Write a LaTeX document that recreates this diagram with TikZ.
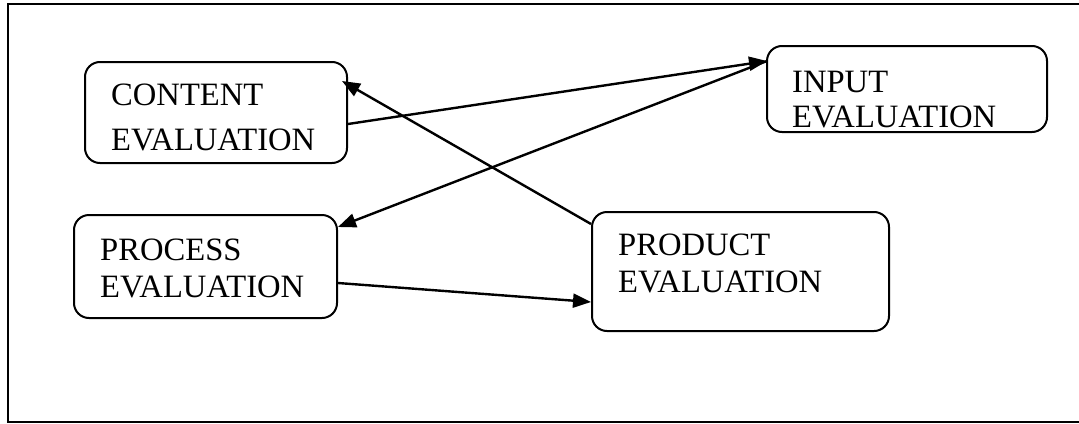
\documentclass[tikz,border=0pt]{standalone}
\usepackage{fontspec}
\setmainfont{Liberation Serif}
\usetikzlibrary{arrows.meta}
\begin{document}
\begin{tikzpicture} [x=0.5pt, y=-0.5pt,
    >={Triangle[length=9pt,width=7pt]},
    line width=1.2pt,
    evalbox/.style={draw, rounded corners=7.5pt, line width=1pt, inner sep=0pt},
    evaltext/.style={anchor=base west, inner sep=0pt, text width=130pt, align=left}]
  \useasboundingbox (0,0) rectangle (1079,423);
  \draw[line width=1pt] (1085,4) -- (7.5,4) -- (7.5,421.5) -- (1085,421.5);

  \node[evalbox, minimum width=131pt, minimum height=50.5pt] (content) at (216,112.5) {};
  \node[evalbox, minimum width=140pt, minimum height=43pt] (input) at (907,89) {};
  \node[evalbox, minimum width=131.5pt, minimum height=51.5pt] (process) at (205.5,266.5) {};
  \node[evalbox, minimum width=148.5pt, minimum height=59.5pt] (product) at (740.5,271.5) {};

  \node[evaltext, font=\fontsize{16.3}{22.5}\selectfont] (contenttxt) at (110,105) {CONTENT\\EVALUATION};
  \node[evaltext, font=\fontsize{16.3}{17.5}\selectfont] (inputtxt) at (791,92) {INPUT\\EVALUATION};
  \node[evaltext, font=\fontsize{16.3}{18.5}\selectfont] (processtxt) at (99,260) {PROCESS\\EVALUATION};
  \node[evaltext, font=\fontsize{16.3}{18.5}\selectfont] (producttxt) at (617,255) {PRODUCT\\EVALUATION};

  \draw[->] ([shift={(0,11.5)}]content.east) -- ([shift={(1,16)}]input.north west);
  \draw[->] ([shift={(1,16)}]input.north west) -- ([shift={(0,13)}]process.north east);
  \draw[->] ([shift={(0,13)}]product.north west) -- ([shift={(-6,20)}]content.north east);
  \draw[->] ([shift={(0,69)}]process.north east) -- ([shift={(0,91)}]product.north west);
\end{tikzpicture}
\end{document}
